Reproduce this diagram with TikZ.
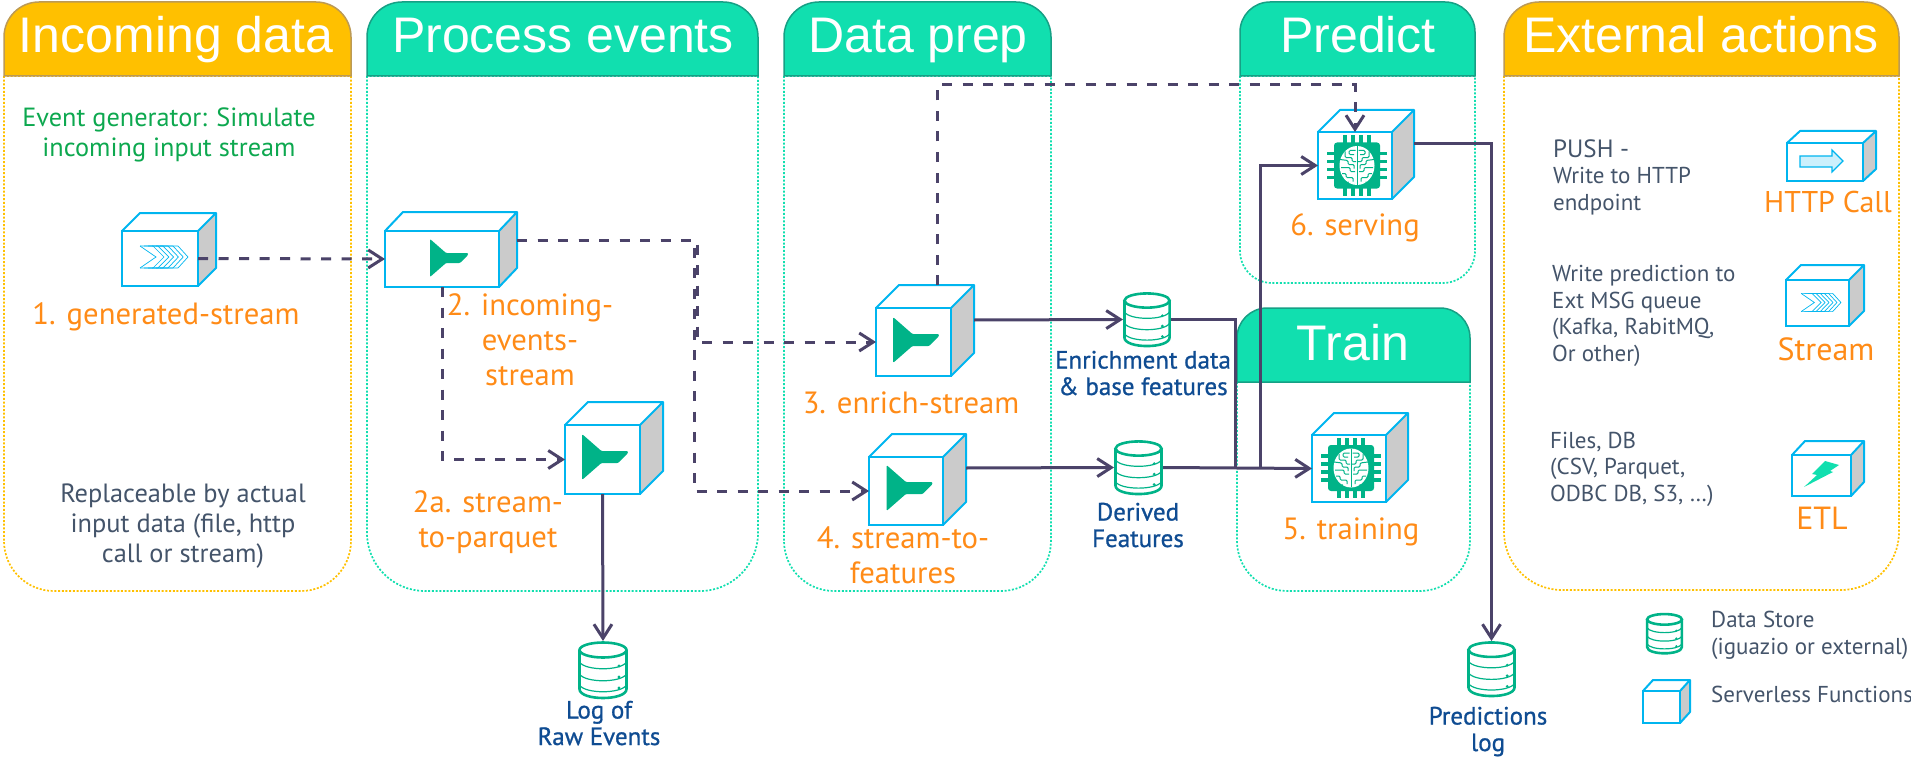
\documentclass[tikz,border=0pt]{standalone}
\usepackage{fontspec}
\setmainfont{PT Sans}
\newfontfamily\titlefont{Liberation Sans}
\newfontfamily\storefont[FakeBold=0.9]{PT Sans}
\usetikzlibrary{arrows.meta}

\definecolor{headorange}{HTML}{FFC000}
\definecolor{edgeorange}{HTML}{BC9A55}
\definecolor{dotorange}{HTML}{FFC000}
\definecolor{headgreen}{HTML}{11DFAF}
\definecolor{edgegreen}{HTML}{16A085}
\definecolor{dotgreen}{HTML}{11DFAF}
\definecolor{cubeblue}{HTML}{00B5EF}
\definecolor{cubegray}{HTML}{CBCBCB}
\definecolor{icongreen}{HTML}{00B388}
\definecolor{flowpurple}{HTML}{4B4369}
\definecolor{nameorange}{HTML}{FF8B17}
\definecolor{notegray}{HTML}{44546A}
\definecolor{notegreen}{HTML}{0DA84F}
\definecolor{storeblue}{HTML}{0F4C92}

\tikzset{
	lanetitle/.style={anchor=base,text=white,font=\titlefont\fontsize{50}{60}\selectfont},
	funcname/.style={anchor=base,align=center,text=nameorange,font=\fontsize{30.7}{35}\selectfont},
	kindname/.style={anchor=base,text=nameorange,font=\fontsize{32}{38}\selectfont},
	notetext/.style={anchor=base west,align=left,inner sep=0pt,text=notegray,font=\fontsize{23}{26.4}\selectfont},
	storetext/.style={anchor=base,align=center,text=storeblue,font=\storefont\fontsize{25}{26.5}\selectfont},
	funcface/.style={draw=cubeblue,line width=2pt,inner sep=0pt,outer sep=0pt},
	storebox/.style={inner sep=0pt,outer sep=0pt},
	flow/.style={draw=flowpurple,line width=3pt,-{Straight Barb[length=14pt,width=18pt,line width=3pt]}},
	dashflow/.style={flow,dash pattern=on 10pt off 10.5pt},
	flowline/.style={draw=flowpurple,line width=3pt},
}

% x0, x1, top, header bottom, bottom, colour, header radius, panel radius
\newcommand{\lane}[8]{
	\draw[dotted,draw=dot#6,line width=1.7pt,dash pattern=on 2pt off 1.7pt] (#1,#4) [rounded corners=#8pt] -- (#1,#5) -- (#2,#5) [sharp corners] -- (#2,#4) -- cycle;
	\filldraw[fill=head#6,draw=edge#6,line width=1.5pt] (#1,#4) [rounded corners=#7pt] -- (#1,#3) -- (#2,#3) [sharp corners] -- (#2,#4) -- cycle;
}
% name, front left, front top, front right, front bottom, back right, back top
\newcommand{\funccube}[7]{
	\fill[cubegray] (#4,#3) -- (#6,#7) -- (#6,{#5-#3+#7}) -- (#4,#5) -- cycle;
	\draw[cubeblue,line width=2pt,line join=round] (#2,#3) -- ({#2+#6-#4},#7) -- (#6,#7) -- (#6,{#5-#3+#7}) -- (#4,#5) (#4,#3) -- (#6,#7);
	\node[funcface,minimum width={(#4-#2)*1pt},minimum height={(#5-#3)*1pt}] (#1) at ({(#2+#4)/2},{(#3+#5)/2}) {};
}
% centre, scale
\newcommand{\funcicon}[3]{
	\fill[icongreen,rounded corners=1pt,shift={(#1,#2)},scale=#3] (-19,-19) -- (-3,-5) -- (19,-5) -- (19,-3) -- (11,5) -- (-3,5) -- (-19,19) -- cycle;
}
\newcommand{\streamicon}[3]{
	\begin{scope}[shift={(#1,#2)},scale=#3]
		\foreach \i in {0,...,5}
			\draw[cubeblue,line width=0.7pt] ({-24+\i*4},-11) -- ({-11+\i*5},-11) -- ({\i*4.8},0) -- ({-11+\i*5},11) -- ({-24+\i*4},11);
		\draw[cubeblue,line width=0.7pt] (-24,-11) -- (-8,0) -- (-24,11);
	\end{scope}
}
\newcommand{\brainchip}[2]{
	\begin{scope}[shift={(#1,#2)}]
		\foreach \p in {-12,-4,4,12} {
			\fill[icongreen] (\p-1.8,-30) rectangle (\p+1.8,30);
			\fill[icongreen] (-30,\p-1.8) rectangle (30,\p+1.8);
		}
		\fill[icongreen,rounded corners=3pt] (-23,-23) rectangle (23,23);
		\fill[white] (0,0) ellipse [x radius=17.5,y radius=19.5];
		\draw[icongreen,line width=1pt] (0,-19) -- (0,19);
		\foreach \s in {-1,1}
			\draw[icongreen,line width=1pt,rounded corners=1.2pt,xscale=\s] (1.5,-15) -- (8,-15) -- (8,-11) -- (3,-11) (12,-14) -- (12,-8) -- (5,-8) -- (5,-4) -- (1,-4) (17,-6) -- (9,-5) -- (9,-1) -- (3,-1) -- (3,3) (16,2) -- (7,2) -- (7,6) -- (2,6) (15,8) -- (11,8) -- (11,12) -- (4,12) -- (4,16) (9,16) -- (9,18);
	\end{scope}
}
% name, centre, width, height
\newcommand{\storeicon}[5]{
	\node[storebox,minimum width=#4pt,minimum height=#5pt] (#1) at (#2,#3) {};
	\begin{scope}[shift={(#2,#3)},xscale=#4/50,yscale=#5/58]
		\draw[icongreen,line width=2.6pt] (0,-20) ellipse [x radius=23.5,y radius=7.5];
		\draw[icongreen,line width=2.6pt] (-23.5,-20) -- (-23.5,19) .. controls (-23.5,31) and (23.5,31) .. (23.5,19) -- (23.5,-20);
		\foreach \h in {-8,4,15}
			\draw[icongreen,line width=1.2pt] (-23.5,\h) .. controls (-18,{\h+9}) and (18,{\h+9}) .. (23.5,\h);
		\foreach \h in {-4,7,18}
			\fill[icongreen] (16,\h) circle (1.6);
	\end{scope}
}

\begin{document}
\begin{tikzpicture}[x=1pt,y=-1pt]
	\useasboundingbox (0,0) rectangle (1911,757);

	% lanes
	\lane{4}{351}{2}{76}{591}{orange}{35}{50}
	\lane{367}{758}{2}{76}{591}{green}{35}{58}
	\lane{784}{1051}{2}{76}{591}{green}{35}{50}
	\lane{1240}{1475}{2}{76}{283}{green}{30}{32}
	\lane{1237}{1470}{308}{382}{591}{green}{30}{50}
	\lane{1504}{1899}{2}{76}{590}{orange}{35}{58}
	\node[lanetitle] (incomingtitle) at (176,53) {Incoming data};
	\node[lanetitle] (processtitle) at (563,53) {Process events};
	\node[lanetitle] (preptitle) at (918,53) {Data prep};
	\node[lanetitle] (predicttitle) at (1358,53) {Predict};
	\node[lanetitle] (traintitle) at (1353,360) {Train};
	\node[lanetitle] (externaltitle) at (1701,53) {External actions};

	% function cubes
	\funccube{generated}{122}{231}{198}{286}{216}{213}
	\funccube{incoming}{385}{231}{499}{287}{517}{212}
	\funccube{parquet}{565}{425}{640}{494}{663}{402}
	\funccube{enrich}{876}{308}{951}{376}{974}{285}
	\funccube{features}{869}{457}{943}{525}{966}{434}
	\funccube{serving}{1318}{132}{1392}{199}{1414}{110}
	\funccube{training}{1312}{435}{1386}{502}{1408}{413}
	\funccube{httpcall}{1787}{143}{1863}{181}{1876}{131}
	\funccube{extstream}{1786}{280}{1849}{326}{1864}{265}
	\funccube{etl}{1792}{455}{1851}{496}{1864}{441}
	\funccube{legendcube}{1643}{691}{1680}{723}{1690}{680}

	% icons on the cubes
	\streamicon{164}{257}{1}
	\streamicon{1821}{302.5}{0.83}
	\funcicon{449}{258}{1}
	\funcicon{605}{457}{1.2}
	\funcicon{916}{340}{1.2}
	\funcicon{909.5}{488}{1.2}
	\brainchip{1357}{165.5}
	\brainchip{1351}{468}
	\filldraw[fill=cubeblue!20,draw=cubeblue,line width=1.2pt] (1800,156) -- (1832,156) -- (1832,150) -- (1843,161) -- (1832,172) -- (1832,167) -- (1800,167) -- cycle;
	\fill[headgreen] (1825,461) -- (1839,465) -- (1830,471) -- (1833,472) -- (1804,487) -- (1817,475) -- (1812,474) -- cycle;

	% data stores
	\storeicon{enrichdb}{1147}{319.5}{48}{55}
	\storeicon{deriveddb}{1138.5}{467.5}{49}{55}
	\storeicon{rawlog}{603}{670}{50}{58}
	\storeicon{predlog}{1491.5}{669}{49}{56}
	\storeicon{legenddb}{1664.5}{633.5}{37}{41}

	% function names
	\node[funcname] (name1) at (166,324) {1. generated-stream};
	\node[funcname] (name2) at (530,385) {2. incoming-\\events-\\stream};
	\node[funcname] (name2a) at (488,547) {2a. stream-\\to-parquet};
	\node[funcname] (name3) at (911,413) {3. enrich-stream};
	\node[funcname] (name4) at (903,583) {4. stream-to-\\features};
	\node[funcname] (name5) at (1351,539) {5. training};
	\node[funcname] (name6) at (1355,235) {6. serving};
	\node[kindname,font=\fontsize{30}{36}\selectfont] (namehttp) at (1828,212) {HTTP Call};
	\node[kindname] (namestream) at (1826,360) {Stream};
	\node[kindname] (nameetl) at (1822,529) {ETL};

	% store names
	\node[storetext] (enrichname) at (1143,395) {Enrichment data\\\& base features};
	\node[storetext] (derivedname) at (1138,547) {Derived\\Features};
	\node[storetext] (rawname) at (599,745) {Log of\\Raw Events};
	\node[storetext] (predname) at (1488,751) {Predictions\\log};

	% notes
	\node[notetext,align=center,anchor=base,text=notegreen,font=\fontsize{26.3}{30}\selectfont] (genote) at (169,157) {Event generator: Simulate\\incoming input stream};
	\node[notetext,align=center,anchor=base,font=\fontsize{26.4}{30}\selectfont] (replacenote) at (183,562) {Replaceable by actual\\input data (file, http\\call or stream)};
	\node[notetext] (pushnote) at (1553,210) {{\fontsize{25}{26.4}\selectfont PUSH -}\\Write to HTTP\\endpoint};
	\node[notetext] (msgnote) at (1552,361) {Write prediction to\\Ext MSG queue\\(Kafka, RabitMQ,\\Or other)};
	\node[notetext] (filesnote) at (1550,501) {Files, DB\\(CSV, Parquet,\\ODBC DB, S3, …)};
	\node[notetext] (storenote) at (1711,654) {Data Store\\(iguazio or external)};
	\node[notetext] (funcnote) at (1711,702) {Serverless Functions};

	% free ends and bends of the connectors
	\coordinate (incomingout) at (517,240);
	\coordinate (splita) at (697,300);
	\coordinate (splitb) at (694,300);
	\coordinate (enrichtop) at (937,285);
	\coordinate (servingtop) at (1355,85);
	\coordinate (enrichout) at (974,320);
	\coordinate (featuresout) at (966,468);
	\coordinate (servingout) at (1414,144);
	\coordinate (mergea) at (1235,468);
	\coordinate (mergeb) at (1260,468);

	% dashed streams
	\draw[dashflow] (generated.east) -- (incoming.west);
	\draw[dashflow] (incomingout) -| (splita) |- (enrich.west);
	\draw[dashflow] (incomingout) -| (splitb) |- (features.west);
	\draw[dashflow] (incoming.south) |- (parquet.west);
	\draw[dashflow] (enrichtop) |- (servingtop) -- (serving.north);

	% solid data paths
	\draw[flow] (parquet.south) -- (rawlog.north);
	\draw[flow] (enrichout) -- (enrichdb.west);
	\draw[flow] (featuresout) -- (deriveddb.west);
	\draw[flowline] (enrichdb.east) -| (mergea);
	\draw[flow] (deriveddb.east) -- (training.west);
	\draw[flow] (mergeb) |- (serving.west);
	\draw[flow] (servingout) -| (predlog.north);
\end{tikzpicture}
\end{document}
